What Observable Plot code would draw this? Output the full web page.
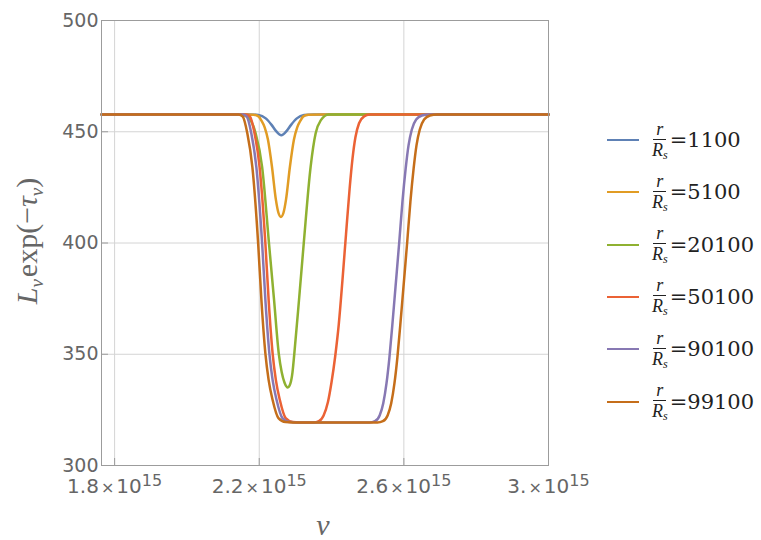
<!DOCTYPE html>
<html><head><meta charset="utf-8">
<script src="https://cdn.jsdelivr.net/npm/d3@7"></script>
<script src="https://cdn.jsdelivr.net/npm/@observablehq/plot@0.6"></script>
<style>
body{margin:0;background:#fff;}
#wrap{position:relative;width:761px;height:540px;overflow:hidden;}
.item{position:absolute;left:607px;height:44px;display:flex;align-items:center;}
.sw{width:32px;height:0;border-top-width:2.5px;border-top-style:solid;margin-right:13px;}
.frac{display:inline-flex;flex-direction:column;align-items:center;font-family:"Liberation Serif",serif;font-style:italic;font-size:18px;line-height:1;color:#222;}
.num{border-bottom:1.2px solid #222;padding:0 3px 1px;}
.den{padding-top:1px;}
.den sub{font-size:12px;vertical-align:-3px;}
.eq{font-family:"DejaVu Serif",serif;font-size:21px;color:#222;margin-left:2px;}
</style></head><body><div id="wrap"></div>
<script>
// frequency in units of 1e15
const labels = ["1100", "5100", "20100", "50100", "90100", "99100"];
const colors = ["#5E81B5", "#E19C24", "#8FB131", "#EB6235", "#8778B3", "#C56E1A"];
const xTicks = [1.8, 2.2, 2.6, 3.0];
const yTicks = [300, 350, 400, 450, 500];

const nu1100 = [1.764, 2.170, 2.198, 2.218, 2.234, 2.246, 2.261, 2.276, 2.288, 2.304, 2.324, 2.350, 3.000];
const L1100  = [457.8, 457.8, 457.5, 456.0, 453.1, 450.4, 448.4, 450.4, 453.1, 456.0, 457.5, 457.8, 457.8];

const nu5100 = [1.764, 2.150, 2.185, 2.198, 2.206, 2.215, 2.224, 2.235, 2.246, 2.253, 2.260, 2.267, 2.274, 2.285, 2.296, 2.305, 2.314, 2.322, 2.335, 2.370, 3.000];
const L5100  = [457.8, 457.8, 457.6, 456.9, 455.0, 452.0, 446.5, 434.5, 419.5, 413.6, 411.7, 413.6, 419.5, 434.5, 446.5, 452.0, 455.0, 456.9, 457.6, 457.8, 457.8];

const nu20100 = [1.764, 2.150, 2.172, 2.190, 2.208, 2.227, 2.241, 2.254, 2.262, 2.270, 2.279, 2.286, 2.292, 2.297, 2.310, 2.323, 2.342, 2.356, 2.370, 2.392, 3.000];
const L20100  = [457.8, 457.8, 456.0, 449.3, 434.1, 399.7, 374.3, 350.3, 342.0, 337.2, 335.1, 336.8, 342.0, 350.3, 374.5, 399.7, 434.1, 449.3, 455.1, 457.8, 457.8];

const nu50100 = [1.764, 2.163, 2.174, 2.187, 2.201, 2.217, 2.226, 2.237, 2.246, 2.257, 2.273, 2.293, 2.310,
                 2.350, 2.365, 2.378, 2.390, 2.400, 2.410, 2.420, 2.430, 2.440, 2.450, 2.458, 2.466, 2.476, 2.490, 2.505, 2.525, 3.000];
const L50100  = [457.8, 457.8, 456.9, 449.3, 434.1, 399.7, 374.3, 350.3, 338.4, 329.4, 321.3, 319.5, 319.3,
                 319.3, 319.9, 322.5, 328.5, 337.5, 349.0, 363.5, 383.0, 404.0, 424.5, 438.0, 447.5, 453.8, 456.9, 457.7, 457.8, 457.8];

const nu90100 = [1.764, 2.154, 2.165, 2.178, 2.192, 2.208, 2.217, 2.228, 2.237, 2.248, 2.264, 2.284, 2.303,
                 2.505, 2.520, 2.533, 2.543, 2.552, 2.560, 2.568, 2.577, 2.587, 2.596, 2.605, 2.613, 2.622, 2.634, 2.650, 2.670, 3.000];
const L90100  = [457.8, 457.8, 456.9, 449.3, 434.1, 399.7, 374.3, 350.3, 338.4, 329.4, 321.3, 319.5, 319.3,
                 319.3, 319.9, 322.5, 328.0, 337.0, 348.5, 363.0, 380.5, 400.0, 418.5, 433.5, 444.0, 451.0, 455.5, 457.3, 457.8, 457.8];

const nu99100 = [1.764, 2.143, 2.154, 2.167, 2.181, 2.197, 2.206, 2.217, 2.226, 2.237, 2.253, 2.273, 2.292,
                 2.527, 2.542, 2.555, 2.565, 2.574, 2.582, 2.590, 2.599, 2.609, 2.618, 2.627, 2.635, 2.644, 2.656, 2.672, 2.692, 3.000];
const L99100  = [457.8, 457.8, 456.9, 449.3, 434.1, 399.7, 374.3, 350.3, 338.4, 329.4, 321.3, 319.5, 319.3,
                 319.3, 319.9, 322.5, 328.0, 337.0, 348.5, 363.0, 380.5, 400.0, 418.5, 433.5, 444.0, 451.0, 455.5, 457.3, 457.8, 457.8];

const seriesNu = [nu1100, nu5100, nu20100, nu50100, nu90100, nu99100];
const seriesL = [L1100, L5100, L20100, L50100, L90100, L99100];

const rows = [];
labels.forEach((lab, i) => seriesNu[i].forEach((n, j) => rows.push({series: lab, nu: n, L: seriesL[i][j]})));

const gridColor = "#d4d4d4";
const frameColor = "#9c9c9c";
const textColor = "#666";

const plot = Plot.plot({
  width: 761, height: 540,
  marginLeft: 101, marginRight: 213, marginTop: 20, marginBottom: 75,
  style: {background: "transparent", fontFamily: "DejaVu Sans", fontSize: "20px", color: textColor, overflow: "visible"},
  x: {domain: [1.7637, 3.0]},
  y: {domain: [300, 500]},
  color: {domain: labels, range: colors},
  marks: [
    Plot.gridX(xTicks, {stroke: gridColor, strokeOpacity: 1}),
    Plot.gridY(yTicks, {stroke: gridColor, strokeOpacity: 1}),
    Plot.line(rows, {x: "nu", y: "L", z: "series", stroke: "series", strokeWidth: 2.5, curve: "monotone-x"}),
    Plot.frame({stroke: frameColor}),
    Plot.tickX(xTicks, {x: d => d, insetTop: 438, stroke: frameColor}),
    Plot.tickY(yTicks, {y: d => d, insetRight: 440, stroke: frameColor}),
    Plot.axisX(xTicks, {tickSize: 0, tickPadding: 13, label: null, fill: textColor, fontSize: 20,
      tickFormat: d => d === 3 ? "3." : d3.format(".1f")(d)}),
    Plot.axisY(yTicks, {tickSize: 0, tickPadding: 3, label: null, fill: textColor, fontSize: 19})
  ]
});

const svg = d3.select(plot);
// x tick labels with scientific notation
svg.selectAll('g[aria-label="x-axis tick label"] text').each(function() {
  const t = d3.select(this);
  const s = t.text();
  t.text(null);
  t.append("tspan").text(s);
  t.append("tspan").attr("font-size", 16).attr("dx", 2).text("×");
  t.append("tspan").attr("dx", 2).text("10");
  t.append("tspan").attr("font-size", 16).attr("dy", "-0.45em").text("15");
});
// y axis label
const yl = svg.append("text").attr("transform", "translate(37,241) rotate(-90)")
  .attr("text-anchor", "middle").attr("font-family", "Liberation Serif").attr("font-size", 30).attr("fill", textColor);
yl.append("tspan").attr("font-style", "italic").text("L");
yl.append("tspan").attr("font-style", "italic").attr("font-size", 19).attr("dy", 6).text("ν");
yl.append("tspan").attr("dy", -6).attr("dx", 2).text("exp(−");
yl.append("tspan").attr("font-style", "italic").text("τ");
yl.append("tspan").attr("font-style", "italic").attr("font-size", 19).attr("dy", 6).text("ν");
yl.append("tspan").attr("dy", -6).text(")");
// x axis label
svg.append("text").attr("x", 323).attr("y", 535).attr("text-anchor", "middle")
  .attr("font-family", "Liberation Serif").attr("font-style", "italic").attr("font-size", 30)
  .attr("fill", textColor).text("ν");

const wrap = document.getElementById("wrap");
wrap.appendChild(plot);

// legend
labels.forEach((lab, i) => {
  const cy = 140 + 52.3 * i;
  const item = document.createElement("div");
  item.className = "item";
  item.style.top = (cy - 22) + "px";
  item.innerHTML = `<span class="sw" style="border-top-color:${colors[i]}"></span>` +
    `<span class="frac"><span class="num">r</span><span class="den">R<sub>s</sub></span></span>` +
    `<span class="eq">=${lab}</span>`;
  wrap.appendChild(item);
});
</script></body></html>
